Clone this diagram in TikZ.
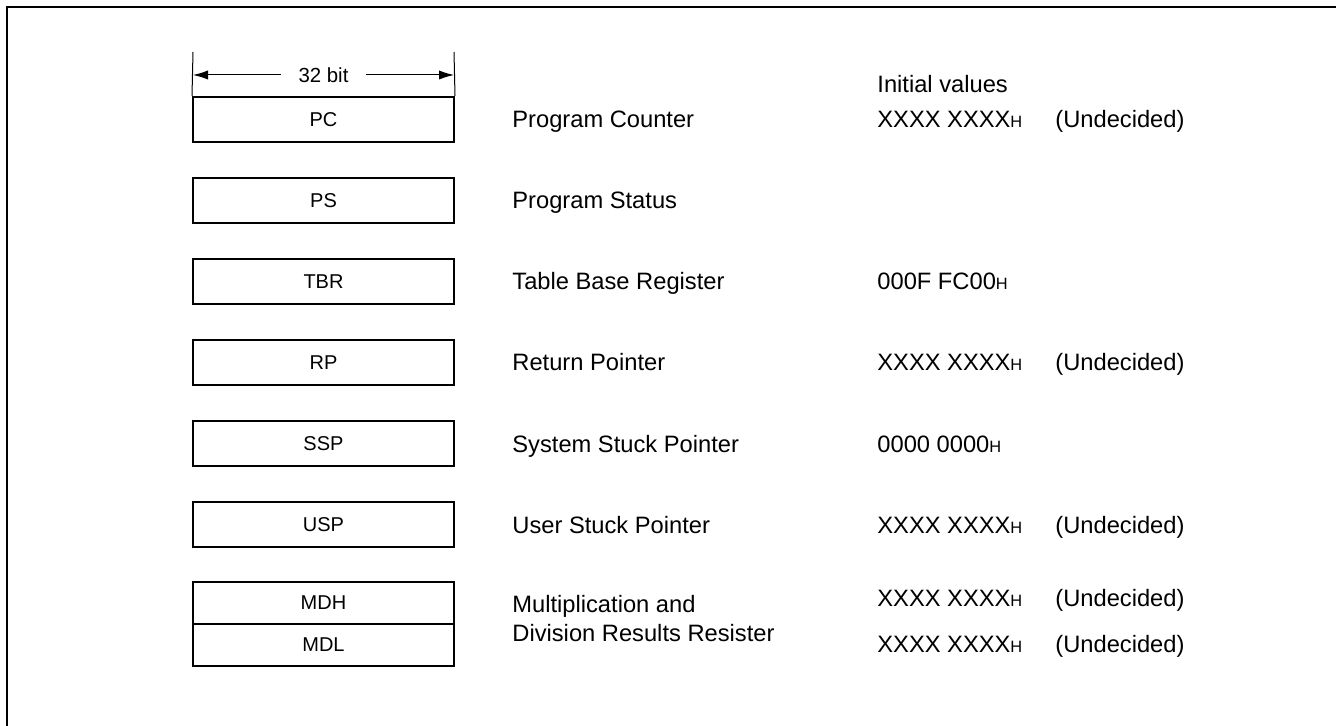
\documentclass[tikz,border=0pt]{standalone}
\usepackage{fontspec}
\setmainfont{Liberation Sans}
\usepackage{tikz}
\usetikzlibrary{arrows.meta}
\newcommand{\hexh}{{\fontsize{8.2}{10}\selectfont H}}
\tikzset{
  reg_b/.style = {draw=black, line width=1pt, inner sep=0pt,
    minimum width=130.5pt, minimum height=22.5pt,
    font=\fontsize{10}{12}\selectfont},% registre, boite
  reg_m/.style = {reg_b, minimum height=21pt},% registre MD, demi boite
  reg_t/.style = {anchor=base west, inner sep=0pt,
    font=\fontsize{11.85}{14}\selectfont},% texte, nom ou valeur
  dim_l/.style = {line width=0.5pt}% cote 32 bit
}

\begin{document}
\begin{tikzpicture}[x=0.5pt,y=-0.5pt,>={Latex[length=7.5pt,width=4.6pt]}]
    \useasboundingbox (0,0) rectangle (1336,726);
    \draw[line width=1pt] (7,726) -- (7,7) -- (1336,7);

    % registres
    \node [reg_b] (pc)  at (323.5,119.5) {PC};
    \node [reg_b] (ps)  at (323.5,200.5) {PS};
    \node [reg_b] (tbr) at (323.5,281.5) {TBR};
    \node [reg_b] (rp)  at (323.5,362.5) {RP};
    \node [reg_b] (ssp) at (323.5,443.5) {SSP};
    \node [reg_b] (usp) at (323.5,524.5) {USP};
    \node [reg_m] (mdh) at (323.5,603) {MDH};
    \node [reg_m] (mdl) at (323.5,645) {MDL};

    % cote 32 bit
    \coordinate (w_l) at (193,52);
    \coordinate (w_r) at (454,52);
    \node [inner xsep=8.5pt, inner ysep=0pt, font=\fontsize{10.2}{12}\selectfont]
        (bit) at (323.5,75) {32 bit};
    \draw[dim_l] (w_l) -- (pc.north west);
    \draw[dim_l] (w_r) -- (pc.north east);
    \draw[dim_l,->] (bit.west) -- (bit.west -| w_l);
    \draw[dim_l,->] (bit.east) -- (bit.east -| w_r);

    % noms
    \node [reg_t] (pc_n)  at (512,128) {Program Counter};
    \node [reg_t] (ps_n)  at (512,209) {Program Status};
    \node [reg_t] (tbr_n) at (512,290) {Table Base Register};
    \node [reg_t] (rp_n)  at (512,371) {Return Pointer};
    \node [reg_t] (ssp_n) at (512,452) {System Stuck Pointer};
    \node [reg_t] (usp_n) at (512,533) {User Stuck Pointer};
    \node [reg_t] (md_n1) at (512,612) {Multiplication and};
    \node [reg_t] (md_n2) at (512,641.5) {Division Results Resister};

    % valeurs initiales
    \node [reg_t] (init)  at (877,92.5) {Initial values};
    \node [reg_t] (pc_v)  at (877,128) {XXXX XXXX\hexh};
    \node [reg_t] (pc_u)  at (1055,128) {(Undecided)};
    \node [reg_t] (tbr_v) at (877,290) {000F FC00\hexh};
    \node [reg_t] (rp_v)  at (877,371) {XXXX XXXX\hexh};
    \node [reg_t] (rp_u)  at (1055,371) {(Undecided)};
    \node [reg_t] (ssp_v) at (877,452) {0000 0000\hexh};
    \node [reg_t] (usp_v) at (877,533) {XXXX XXXX\hexh};
    \node [reg_t] (usp_u) at (1055,533) {(Undecided)};
    \node [reg_t] (mdh_v) at (877,606) {XXXX XXXX\hexh};
    \node [reg_t] (mdh_u) at (1055,606) {(Undecided)};
    \node [reg_t] (mdl_v) at (877,652) {XXXX XXXX\hexh};
    \node [reg_t] (mdl_u) at (1055,652) {(Undecided)};
\end{tikzpicture}
\end{document}
